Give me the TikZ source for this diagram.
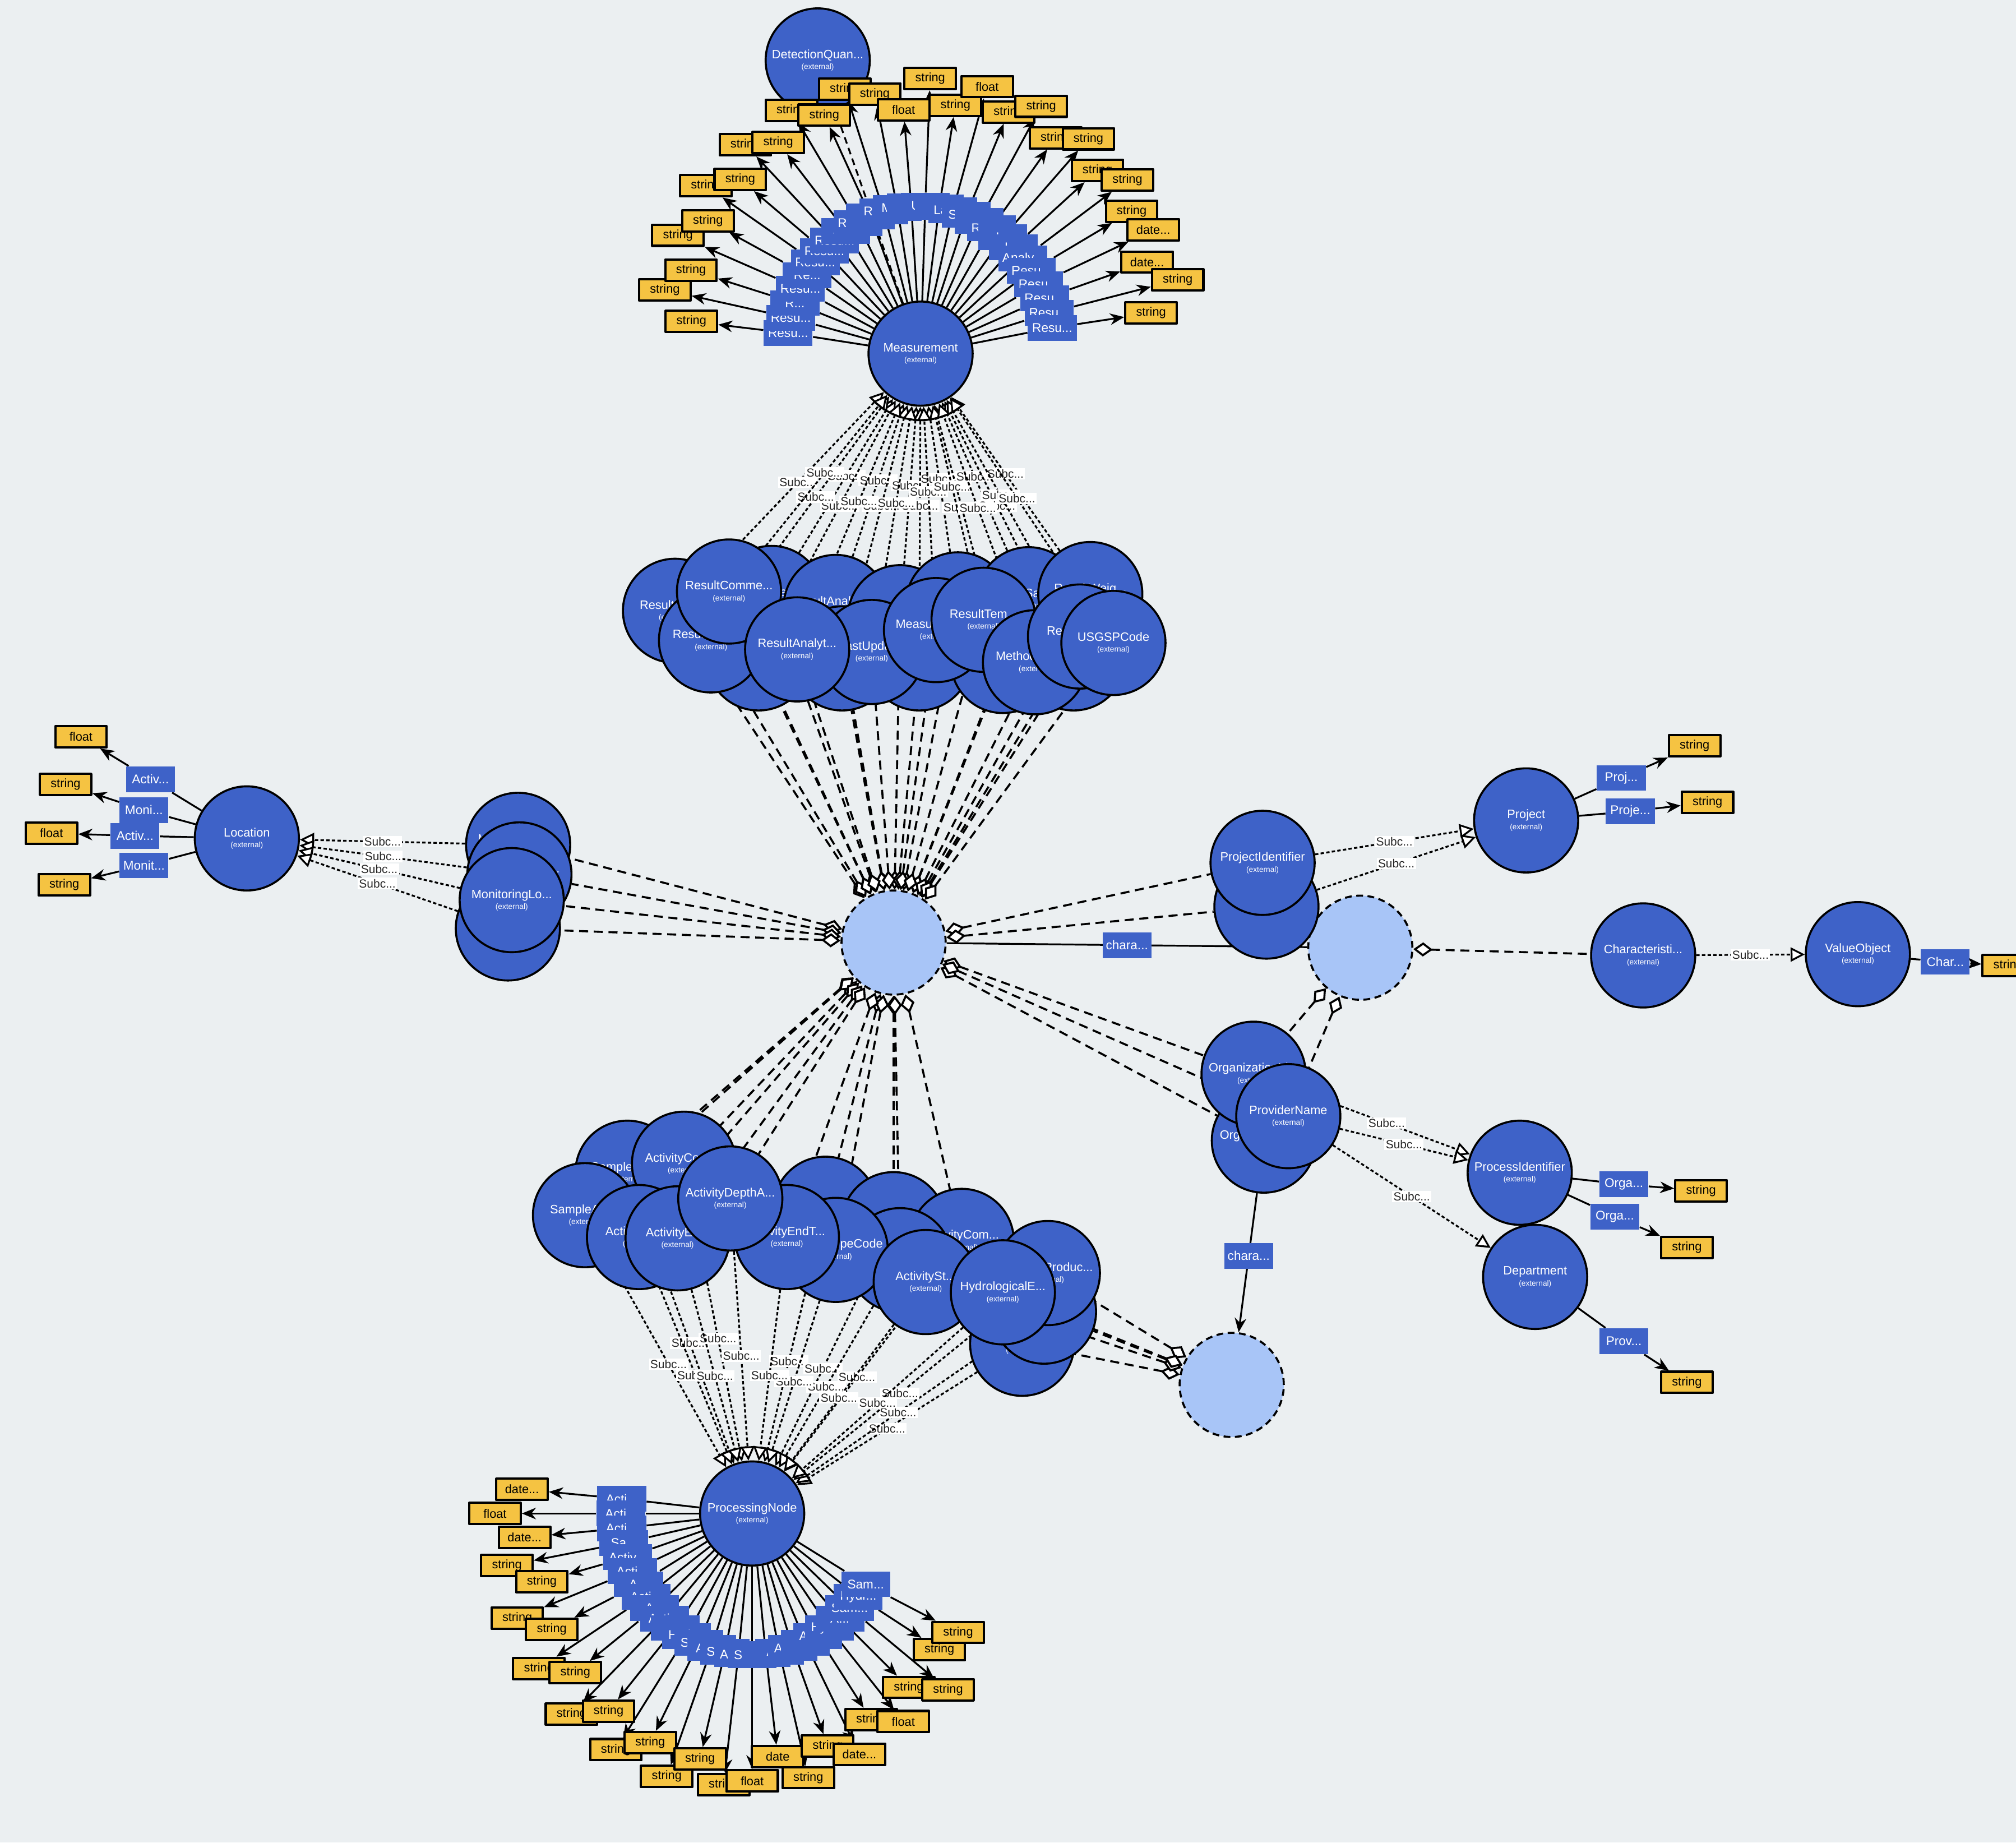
\documentclass[tikz,border=0pt]{standalone}
\usepackage{fontspec}
\setmainfont{Liberation Sans}
\usetikzlibrary{arrows.meta}
\pgfdeclarelayer{back}
\pgfsetlayers{back,main}
\definecolor{canvas}{RGB}{235,239,241}
\definecolor{clsblue}{RGB}{62,98,200}
\definecolor{hubblue}{RGB}{168,197,247}
\definecolor{typeyellow}{RGB}{245,195,66}
\newcommand{\trn}{...}
\newcommand{\extlbl}{\\[-1.2pt]{\fontsize{3.4}{4}\selectfont(external)}}
\begin{document}
\begin{tikzpicture}[x=0.2mm,y=-0.2mm,line join=round]
  \tikzset{
    cls/.style={circle,draw,line width=0.9pt,fill=clsblue,text=white,minimum size=16.2mm,inner sep=0pt,align=center,font=\fontsize{5.4}{6}\selectfont},
    hubc/.style={circle,draw,line width=0.9pt,dash pattern=on 3pt off 2pt,fill=hubblue,minimum size=16.2mm},
    propbox/.style={fill=clsblue,text=white,minimum width=7.6mm,minimum height=4mm,inner sep=1pt,font=\fontsize{5.6}{6}\selectfont},
    typebox/.style={draw,line width=1pt,fill=typeyellow,minimum width=8mm,minimum height=3.3mm,inner sep=1pt,font=\fontsize{5.4}{6}\selectfont},
    subof/.style={line width=0.8pt,dash pattern=on 1.5pt off 1pt,-{Triangle[fill=white,length=2.2mm,width=2.2mm]}},
    relof/.style={line width=0.9pt,dash pattern=on 4pt off 2.5pt,{Diamond[fill=white,length=3mm,width=2.2mm]}-},
    sublbl/.style={fill=white,text=black!85,inner sep=0.6pt,font=\fontsize{5.2}{6}\selectfont},
    attr/.style={line width=0.8pt},
    valof/.style={line width=0.8pt,-{Stealth[length=2.2mm,width=1.8mm]}}
  }
  \useasboundingbox (0,0) rectangle (1568,1433);
  \begin{pgfonlayer}{back}
    \fill[canvas] (0,0) rectangle (1568,1433);
  \end{pgfonlayer}

  % hubs
  \node[hubc] (hub) at (695,733) {};
  \node[hubc] (hubB) at (1058,737) {};
  \node[hubc] (hubC) at (958,1077) {};

  % measurement side
  \node[cls] (det) at (636,47) {DetectionQuan\trn\extlbl};
  \node[cls] (meas) at (716,275) {Measurement\extlbl};
  \foreach \ang/\p/\ty/\rr [count=\i] in {172/Resu/string/180, 166/Resu/string/205, 160/R/string/190,
      154/Resu/string/210, 148/Re/string/195, 142/Resu/string/212, 136/Resu/string/195, 130/Resu/string/212,
      124/Sa/string/198, 118/Resu/string/214, 112/I/string/200, 106/Resu/string/214, 100/Met/string/205,
      94/I/float/190, 88/US/string/214, 82/M/string/195, 76/Labo/float/214, 70/Stati/string/200,
      64/I/string/214, 58/Resu/string/198, 52/I/string/212, 46/L/string/198, 40/Analy/string/210,
      34/Resu/string/198, 28/Resu/date\trn/205, 22/Resu/date\trn/190, 16/Resu/string/208, 10/Resu/string/182}{
    \node[propbox] (mp\i) at ([shift={(-\ang:104 and 115)}]meas) {\p\trn};
    \node[typebox] (mt\i) at ([shift={(-\ang:\rr)}]meas) {\ty};
  }

  % result classes
  \foreach \x/\y/\l [count=\i] in {600/465/ResultLab\trn, 650/472/ResultAnalytic\trn, 700/480/ResultDete\trn,
      745/470/ResultVal\trn, 800/466/ResultSamp\trn, 848/462/ResultWeig\trn, 525/475/ResultDete\trn,
      590/512/ResultPar\trn, 655/512/ResultMea\trn, 715/512/ResultStat\trn, 780/514/ResultDep\trn,
      835/512/ResultTim\trn, 678/507/LastUpdat\trn, 553/498/ResultSamp\trn, 567/460/ResultComme\trn,
      620/505/ResultAnalyt\trn, 728/490/MeasureQua\trn, 765/482/ResultTem\trn, 805/515/MethodSpec\trn,
      840/495/ResultStat\trn, 866/500/USGSPCode}
    \node[cls] (t\i) at (\x,\y) {\l\extlbl};

  % activity classes
  \foreach \x/\y/\l [count=\i] in {488/912/SampleColl\trn, 532/905/ActivityCond\trn, 642/940/ActivityRel\trn,
      695/952/ActivityMeth\trn, 748/965/ActivityCom\trn, 795/1045/SampleTiss\trn, 812/1020/HydrologicalC\trn,
      455/945/SampleAqf\trn, 497/962/ActivityBot\trn, 700/980/ActivityRelat\trn, 650/972/ActivityTypeCode,
      612/962/ActivityEndT\trn, 527/963/ActivityEn\trn, 568/932/ActivityDepthA\trn, 815/990/SampleProduc\trn,
      720/997/ActivitySt\trn, 780/1005/HydrologicalE\trn}
    \node[cls] (b\i) at (\x,\y) {\l\extlbl};

  % processing side
  \node[cls] (pn) at (585,1177) {ProcessingNode\extlbl};
  \foreach \ang/\p/\ty/\rr [count=\i] in {174/Acti/date\trn/180, 180/Acti/float/200, 186/Acti/date\trn/178,
      192/Sa/string/195, 198/Activ/string/172, 204/Acti/string/200, 210/A/string/180, 216/Acti/string/205,
      222/A/string/185, 228/Acti/string/210, 234/A/string/190, 240/Hydr/string/212, 246/Sam/string/195,
      252/Acti/string/215, 258/Sam/string/195, 264/Activ/string/212, 270/Sam/float/208, 276/iv/date/190,
      282/Ac/string/210, 288/Activ/string/190, 294/A/date\trn/205, 300/Activ/string/185, 306/Hydr/float/200,
      312/A/string/182, 318/Sam/string/205, 324/Hydr/string/180, 330/Sam/string/185}{
    \node[propbox] (pp\i) at ([shift={(-\ang:102 and 110)}]pn) {\p\trn};
    \node[typebox] (pt\i) at ([shift={(-\ang:\rr)}]pn) {\ty};
  }

  % location side
  \node[cls] (loc) at (192,652) {Location\extlbl};
  \foreach \px/\py/\pl/\tx/\ty/\tl [count=\i] in {117/606/Activ/63/573/float, 112/630/Moni/51/610/string,
      105/650/Activ/40/648/float, 112/673/Monit/50/688/string}{
    \node[propbox] (lp\i) at (\px,\py) {\pl\trn};
    \node[typebox] (lt\i) at (\tx,\ty) {\tl};
  }
  \node[cls] (mon1) at (403,657) {MonitoringLo\trn\extlbl};
  \node[cls] (mon2) at (404,680) {MonitoringLo\trn\extlbl};
  \node[cls] (mon3) at (395,722) {MonitoringLo\trn\extlbl};
  \node[cls] (mon4) at (398,700) {MonitoringLo\trn\extlbl};

  % project / organization side
  \node[cls] (pid2) at (985,705) {};
  \node[cls] (pid) at (982,671) {ProjectIdentifier\extlbl};
  \node[cls] (proj) at (1187,638) {Project\extlbl};
  \node[propbox] (pj1) at (1261,605) {Proj\trn};
  \node[propbox] (pj2) at (1268,631) {Proje\trn};
  \node[typebox] (pjt1) at (1318,580) {string};
  \node[typebox] (pjt2) at (1328,624) {string};
  \node[cls] (char) at (1278,743) {Characteristi\trn\extlbl};
  \node[cls] (vo) at (1445,742) {ValueObject\extlbl};
  \node[propbox] (vop) at (1513,748) {Char\trn};
  \node[typebox] (vot) at (1562,751) {string};
  \node[cls] (org2) at (983,887) {OrganizationN\trn\extlbl};
  \node[cls] (org1) at (975,835) {OrganizationId\trn\extlbl};
  \node[cls] (prov) at (1002,868) {ProviderName\extlbl};
  \node[cls] (procid) at (1182,912) {ProcessIdentifier\extlbl};
  \node[propbox] (pc1) at (1263,921) {Orga\trn};
  \node[propbox] (pc2) at (1256,946) {Orga\trn};
  \node[typebox] (pct1) at (1323,926) {string};
  \node[typebox] (pct2) at (1312,970) {string};
  \node[cls] (dept) at (1194,993) {Department\extlbl};
  \node[propbox] (dp1) at (1263,1043) {Prov\trn};
  \node[typebox] (dpt1) at (1312,1075) {string};

  \begin{pgfonlayer}{back}
    % fans
    \foreach \i in {1,...,28}{
      \draw[attr] (meas) -- (mp\i);
      \draw[valof] (mp\i) -- (mt\i);
    }
    \draw[line width=0.8pt,dash pattern=on 3pt off 2pt,-{Stealth[length=2.2mm,width=1.8mm]}] (meas) -- (det);
    \foreach \i in {1,...,27}{
      \draw[attr] (pn) -- (pp\i);
      \draw[valof] (pp\i) -- (pt\i);
    }
    \foreach \i in {1,...,4}{
      \draw[attr] (loc) -- (lp\i);
      \draw[valof] (lp\i) -- (lt\i);
    }
    % result classes
    \foreach \i in {1,...,21}{
      \draw[relof] (hub) -- (t\i);
      \draw[subof] (t\i) -- node[sublbl]{Subc\trn} (meas);
    }
    % activity classes
    \foreach \i in {1,2,3,4,5,8,9,10,11,12,13,14}
      \draw[relof] (hub) -- (b\i);
    \foreach \i in {6,7,15,16,17}
      \draw[relof] (hubC) -- (b\i);
    \foreach \i in {1,...,17}
      \draw[subof] (b\i) -- node[sublbl]{Subc\trn} (pn);
    % monitoring locations
    \foreach \m in {mon1,mon2,mon4,mon3}{
      \draw[relof] (hub) -- (\m);
      \draw[subof] (\m) -- node[sublbl]{Subc\trn} (loc);
    }
    % project and organization
    \foreach \m in {pid,pid2,org1,org2,prov}
      \draw[relof] (hub) -- (\m);
    \draw[subof] (pid) -- node[sublbl]{Subc\trn} (proj);
    \draw[subof] (pid2) -- node[sublbl]{Subc\trn} (proj);
    \draw[attr] (proj) -- (pj1);
    \draw[attr] (proj) -- (pj2);
    \draw[valof] (pj1) -- (pjt1);
    \draw[valof] (pj2) -- (pjt2);
    \draw[attr] (hub) -- node[propbox]{chara\trn} (hubB);
    \draw[relof] (hubB) -- (org1);
    \draw[relof] (hubB) -- (prov);
    \draw[relof] (hubB) -- (char);
    \draw[subof] (char) -- node[sublbl]{Subc\trn} (vo);
    \draw[attr] (vo) -- (vop);
    \draw[valof] (vop) -- (vot);
    \draw[valof] (org2) -- node[propbox,pos=0.45]{chara\trn} (hubC);
    \draw[subof] (org1) -- node[sublbl]{Subc\trn} (procid);
    \draw[subof] (prov) -- node[sublbl]{Subc\trn} (procid);
    \draw[subof] (prov) -- node[sublbl]{Subc\trn} (dept);
    \draw[attr] (procid) -- (pc1);
    \draw[attr] (procid) -- (pc2);
    \draw[valof] (pc1) -- (pct1);
    \draw[valof] (pc2) -- (pct2);
    \draw[attr] (dept) -- (dp1);
    \draw[valof] (dp1) -- (dpt1);
  \end{pgfonlayer}
\end{tikzpicture}
\end{document}
